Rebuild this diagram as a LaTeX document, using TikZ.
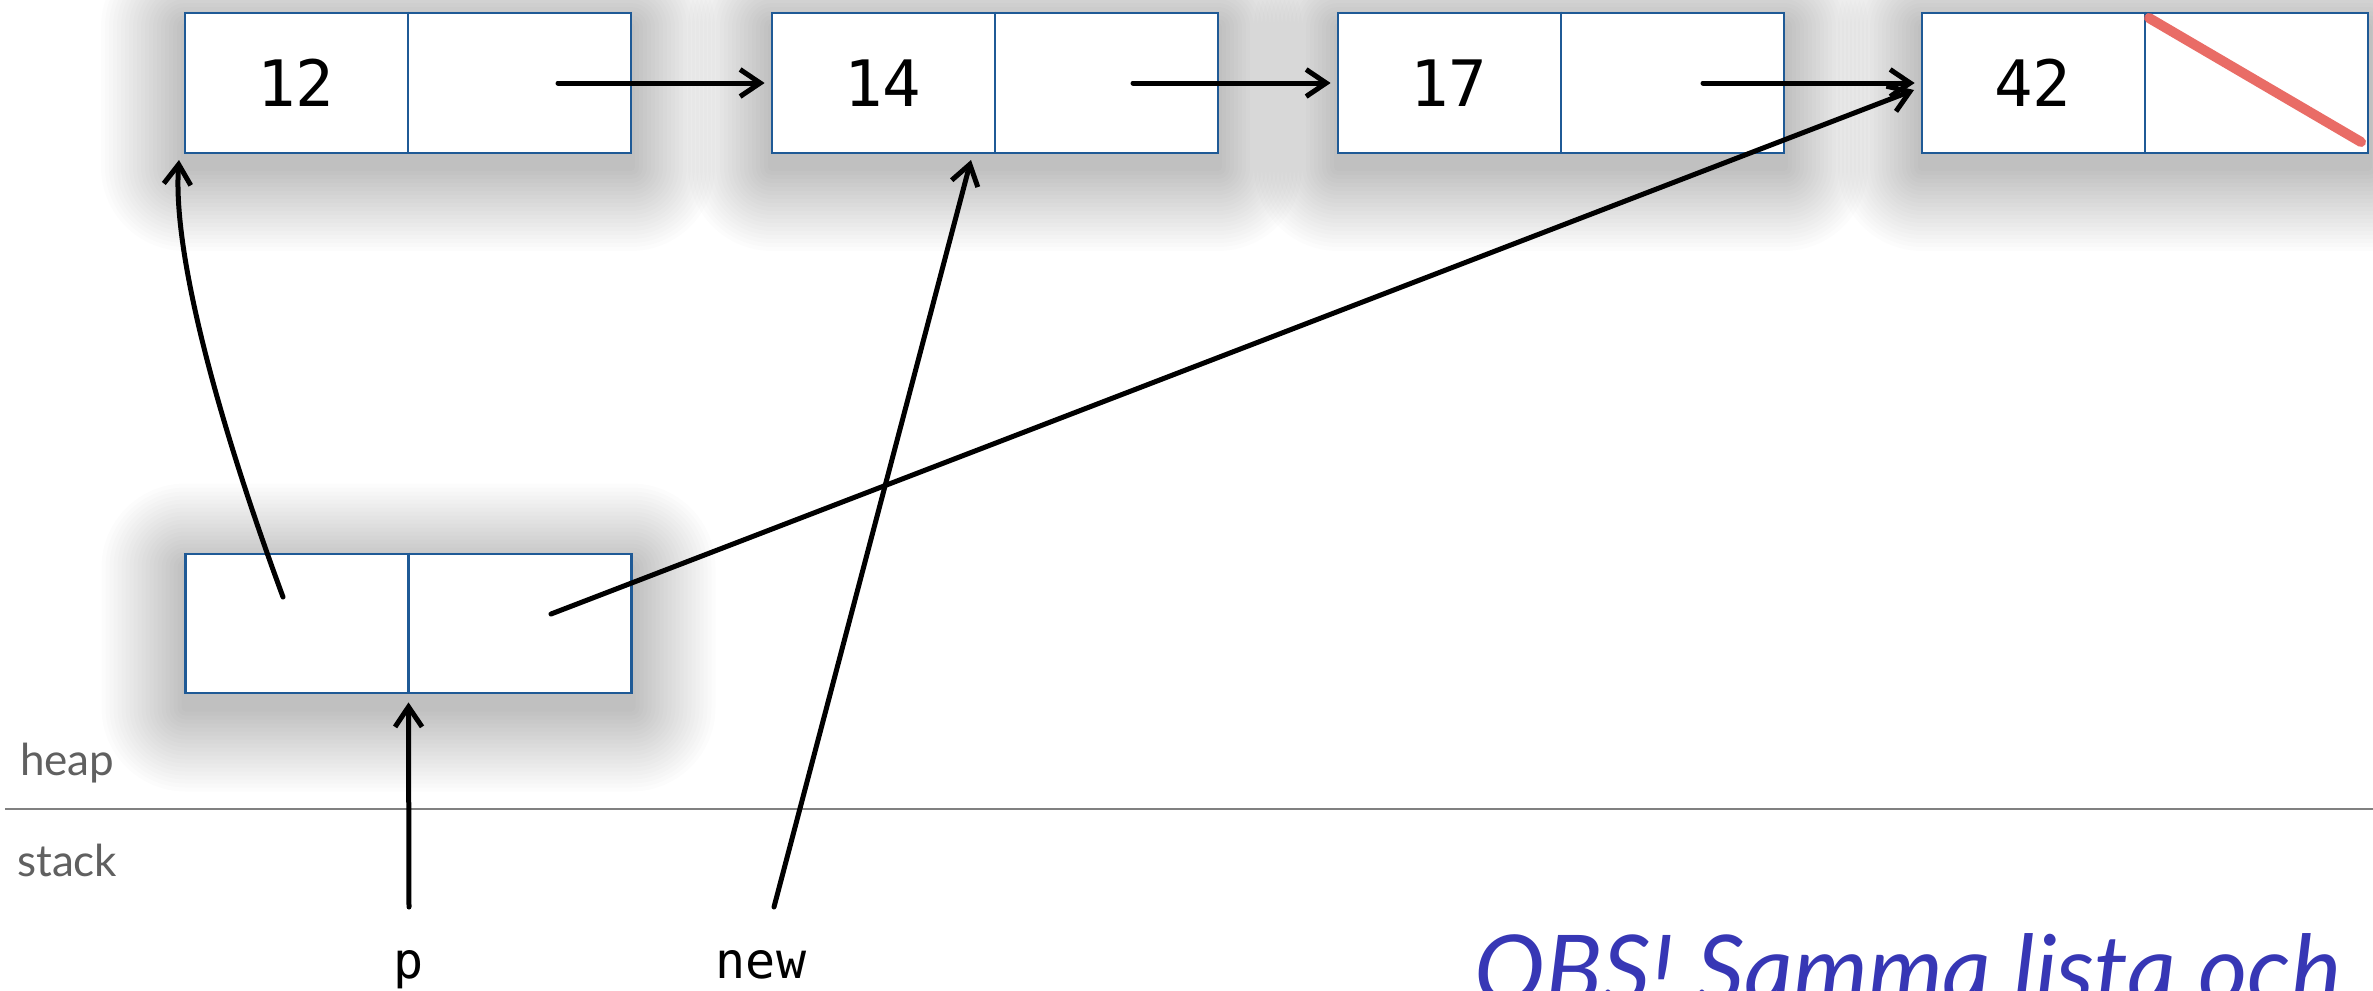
\documentclass[tikz,border=0pt]{standalone}
\usepackage{fontspec}
\usetikzlibrary{arrows.meta,calc}
\newfontfamily\cellfont{DejaVu Sans Mono}
\newfontfamily\labelfont{Lato}
\definecolor{boxblue}{HTML}{1F5A96}
\definecolor{crossred}{HTML}{E8605A}
\definecolor{obsblue}{HTML}{3737B5}
\definecolor{divgray}{HTML}{808080}
\definecolor{lblgray}{HTML}{606060}
\begin{document}
\begin{tikzpicture}[x=1pt,y=-1pt,
  elem/.style={draw=boxblue, line width=2.8pt, fill=white,
    minimum width=446pt, minimum height=140pt, inner sep=0pt},
  divider/.style={draw=boxblue, line width=2.8pt},
  shadowlayer/.style={fill=black, opacity=0.0105},
  val/.style={inner sep=0pt, font=\cellfont\fontsize{64}{64}\selectfont},
  var/.style={inner sep=0pt, font=\cellfont\fontsize{50}{50}\selectfont, anchor=base},
  area/.style={inner sep=0pt, anchor=base west, text=lblgray, font=\labelfont\fontsize{44}{44}\selectfont},
  ptr/.style={line width=5pt, line cap=round, line join=round,
    -{Straight Barb[length=20pt, width=27pt, line width=5pt]}},
  nullmark/.style={draw=crossred, line width=10pt, line cap=round, opacity=0.92}
]
\fill[white] (0,0) rectangle (2373,990);
\useasboundingbox (0,0) rectangle (2373,990);
\clip (0,0) rectangle (2373,990);

% heap / stack separator
\draw[divgray, line width=2pt] (5,809) -- (2373,809);
\node[area] (heap) at (20,775) {heap};
\node[area] (stack) at (17,876) {stack};

% anchors for the list elements
\coordinate (c1) at (408,83);
\coordinate (c2) at (995,83);
\coordinate (c3) at (1561,83);
\coordinate (c4) at (2145,83);
\coordinate (cb) at (408.5,623.5);

% soft shadows
\foreach \c in {c1,c2,c3,c4,cb} {
  \foreach \r in {4,8,...,84} {
    \fill[shadowlayer, rounded corners=\r pt]
      ($(\c)+(-223-\r,-70-\r+14)$) rectangle ($(\c)+(223+\r,70+\r+14)$);
  }
}

% list elements
\node[elem] (e1) at (c1) {};
\node[elem] (e2) at (c2) {};
\node[elem] (e3) at (c3) {};
\node[elem] (e4) at (c4) {};
\node[elem, minimum height=139pt] (eb) at (cb) {};

\foreach \e in {e1,e2,e3,e4,eb} {
  \draw[divider] (\e.north) -- (\e.south);
}

\node[val] (v1) at ($(e1.west)!0.5!(e1.center)$) {12};
\node[val] (v2) at ($(e2.west)!0.5!(e2.center)$) {14};
\node[val] (v3) at ($(e3.west)!0.5!(e3.center)$) {17};
\node[val] (v4) at ($(e4.west)!0.5!(e4.center)$) {42};

% null marker
\coordinate (n1) at (2149,18);
\coordinate (n2) at (2361,142);
\draw[nullmark] (n1) -- (n2);

% pointer start points
\coordinate (s1) at (558,83);
\coordinate (s2) at (1133,83);
\coordinate (s3) at (1703,83);
\coordinate (sbl) at (283,597);
\coordinate (sbr) at (551,614);
\coordinate (t12) at (179,160);
\coordinate (t14) at (971,160);
\coordinate (t42) at (1914,90);
\coordinate (sp) at (409,907);
\coordinate (snew) at (774,907);

\draw[ptr] (s1) -- ($(e2.west)+(-6,0)$);
\draw[ptr] (s2) -- ($(e3.west)+(-6,0)$);
\draw[ptr] (s3) -- ($(e4.west)+(-6,0)$);
\draw[ptr] (sbr) -- (t42);
\draw[ptr] (sbl) .. controls (225,440) and (172,260) .. (t12);
\draw[ptr] (snew) -- (t14);
\draw[ptr] (sp) -- ($(eb.south)+(0,8)$);

% stack variables
\node[var] (p) at (409,978) {p};
\node[var] (new) at (761,978) {new};

% note
\node[inner sep=0pt, anchor=base west, text=obsblue,
  font=\labelfont\itshape\fontsize{95}{95}\selectfont] (obs) at (1474,1003) {OBS! Samma lista och};
\end{tikzpicture}
\end{document}
